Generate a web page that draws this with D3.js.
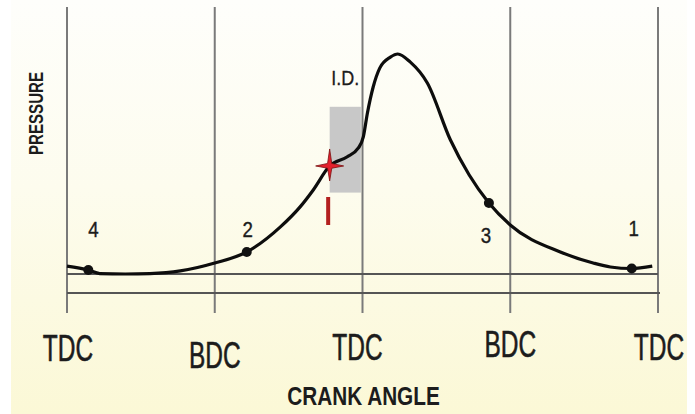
<!DOCTYPE html>
<html lang="en">
  <head>
    <meta charset="utf-8">
    <title>Pressure vs Crank Angle</title>
    <script src="https://d3js.org/d3.v7.min.js"></script>
    <style>
      body { margin: 0; background: white; }
      text { font-family: "Liberation Sans", Arial, sans-serif; fill: #1c1c1c; }
    </style>
  </head>
  <body>
    <script>

      // crank angle (deg) and pressure (% of peak)
      var angles    = [0, 26, 40, 71, 101, 138, 180, 219, 260, 284, 300, 320, 341, 355, 361, 366, 373, 381, 394, 403, 418, 439, 467, 490, 514, 540, 601, 641, 662, 688, 713];
      var pressures = [3.6, 1.8, 0.2, 0, 0.2, 1.4, 5, 10, 21.4, 30.5, 38.2, 49.1, 53.2, 57.3, 62.3, 73.2, 85, 93.6, 98.6, 100, 96.4, 86.8, 61, 45, 32.3, 22.3, 10, 5, 3.2, 2.5, 3.6];

      var strokeLabels = ["4", "2", "3", "1"];
      var strokeAngles = [26, 219, 514, 688];
      var strokePress  = [1.8, 10, 32.3, 2.5];

      var tickAngles = [0, 180, 360, 540, 720];
      var tickLabels = ["TDC", "BDC", "TDC", "BDC", "TDC"];

      var idAngles = [320, 358];     // ignition delay band
      var idPress  = [37, 76];
      var ignitionAngle = 320;
      var ignitionPress = 49.1;

      var w = 695, h = 414;

      var x = d3.scaleLinear().domain([0, 720]).range([67, 658]);
      var y = d3.scaleLinear().domain([0, 100]).range([274, 54]);

      var svg = d3.select("body").append("svg")
          .attr("width", w)
          .attr("height", h);

      var grad = svg.append("defs").append("linearGradient")
          .attr("id", "bg")
          .attr("x1", 0).attr("y1", 0).attr("x2", 0).attr("y2", 1);
      grad.append("stop").attr("offset", "0%").attr("stop-color", "#fefefb");
      grad.append("stop").attr("offset", "45%").attr("stop-color", "#fdfcee");
      grad.append("stop").attr("offset", "100%").attr("stop-color", "#fbf8d6");

      svg.append("rect")
          .attr("x", 11).attr("y", 0)
          .attr("width", 676).attr("height", h)
          .attr("fill", "url(#bg)");

      // ignition delay band
      svg.append("rect")
          .attr("x", x(idAngles[0]))
          .attr("y", y(idPress[1]))
          .attr("width", x(idAngles[1]) - x(idAngles[0]))
          .attr("height", y(idPress[0]) - y(idPress[1]))
          .attr("fill", "#c8c8c8");

      svg.append("text")
          .attr("transform", "translate(" + x((idAngles[0] + idAngles[1]) / 2) + ",85) scale(0.9,1)")
          .attr("text-anchor", "middle")
          .style("font-size", "20px")
          .style("stroke", "#1c1c1c").style("stroke-width", 0.3)
          .text("I.D.");

      // vertical TDC / BDC lines
      svg.selectAll(".vline")
        .data(tickAngles)
        .enter().append("line")
          .attr("class", "vline")
          .attr("x1", d => x(d)).attr("x2", d => x(d))
          .attr("y1", 7).attr("y2", 313)
          .attr("stroke", "#7a7a7a")
          .attr("stroke-width", 2);

      // zero-pressure line and axis line
      svg.append("line")
          .attr("x1", x(0)).attr("x2", x(720))
          .attr("y1", y(0)).attr("y2", y(0))
          .attr("stroke", "#555").attr("stroke-width", 1.8);

      svg.append("line")
          .attr("x1", x(0)).attr("x2", x(720) + 2)
          .attr("y1", 293).attr("y2", 293)
          .attr("stroke", "#555").attr("stroke-width", 2);

      // pressure curve
      var pts = angles.map((a, i) => [a, pressures[i]]);
      var line = d3.line()
          .x(d => x(d[0]))
          .y(d => y(d[1]))
          .curve(d3.curveMonotoneX);

      svg.append("path")
          .datum(pts)
          .attr("d", line)
          .attr("fill", "none")
          .attr("stroke", "#0d0d0d")
          .attr("stroke-width", 3.2)
          .attr("stroke-linejoin", "round");

      // stroke markers and numbers
      var labelLift = [33, 15, -40, 33];
      svg.selectAll(".dot")
        .data(strokeAngles)
        .enter().append("circle")
          .attr("cx", d => x(d))
          .attr("cy", (d, i) => y(strokePress[i]))
          .attr("r", 5)
          .attr("fill", "#111");

      svg.selectAll(".num")
        .data(strokeLabels)
        .enter().append("text")
          .attr("transform", (d, i) => "translate(" + (x(strokeAngles[i]) + [5, 1, -3, 2][i]) + "," + (y(strokePress[i]) - labelLift[i]) + ") scale(0.85,1)")
          .attr("text-anchor", "middle")
          .style("font-size", "22px")
          .style("stroke", "#1c1c1c").style("stroke-width", 0.4)
          .text(d => d);

      // ignition point star
      var sx = x(ignitionAngle), sy = y(ignitionPress);
      var star = [];
      var arms = [[0, -17], [14, 0], [0, 15], [-14, 0]];
      arms.forEach(function(a, i) {
        star.push([sx + a[0], sy + a[1]]);
        var b = arms[(i + 1) % 4];
        star.push([sx + (a[0] + b[0]) * 0.15, sy + (a[1] + b[1]) * 0.15]);
      });
      svg.append("polygon")
          .attr("points", star.map(p => p.join(",")).join(" "))
          .attr("fill", "#e3202c")
          .attr("stroke", "#7a1010")
          .attr("stroke-width", 0.8);

      svg.append("rect")
          .attr("x", sx - 3.5)
          .attr("y", 197)
          .attr("width", 4)
          .attr("height", 28)
          .attr("fill", "#b3201f");

      // tick labels under the axis
      var labelBase = [361, 368, 360, 357, 360];
      svg.selectAll(".tick-label")
        .data(tickLabels)
        .enter().append("text")
          .attr("transform", (d, i) => "translate(" + (x(tickAngles[i]) + [1, 0, -5, 0, 1][i]) + "," + labelBase[i] + ") scale(0.68,1)")
          .attr("text-anchor", "middle")
          .style("font-size", "36px")
          .style("stroke", "#1c1c1c").style("stroke-width", 0.6)
          .text(d => d);

      svg.append("text")
          .attr("transform", "translate(363.5,405) scale(0.83,1)")
          .attr("text-anchor", "middle")
          .style("font-size", "25px")
          .style("font-weight", "bold")
          .text("CRANK ANGLE");

      svg.append("text")
          .attr("transform", "translate(43,113.5) rotate(-90) scale(0.72,1)")
          .attr("text-anchor", "middle")
          .style("font-size", "21px")
          .style("font-weight", "bold")
          .text("PRESSURE");

    </script>
  </body>
</html>
